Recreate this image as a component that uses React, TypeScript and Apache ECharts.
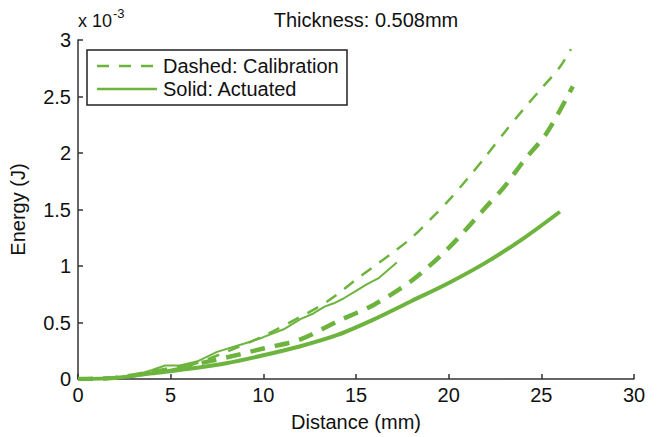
import React, { useEffect, useRef } from "react";
import * as echarts from "echarts";

// Values in units of 1e-3 J
const thinDashedX = [0, 2, 4, 6, 8, 10, 12, 13, 14, 15, 16, 17, 18, 19, 20, 21, 22, 23, 24, 25, 26, 26.6];
const thinDashedY = [0, 0.01, 0.05, 0.12, 0.24, 0.38, 0.55, 0.64, 0.75, 0.88, 1.0, 1.12, 1.25, 1.41, 1.58, 1.77, 1.97, 2.18, 2.38, 2.57, 2.76, 2.92];

const thinSolidX = [0, 2, 3, 4, 4.7, 5.5, 6.5, 7.5, 8.5, 9.3, 10, 11.1, 12, 12.7, 13.3, 13.8, 14.3, 15, 15.6, 16.2, 17.2];
const thinSolidY = [0, 0.01, 0.03, 0.08, 0.12, 0.12, 0.16, 0.24, 0.29, 0.33, 0.37, 0.44, 0.53, 0.58, 0.64, 0.67, 0.71, 0.78, 0.84, 0.89, 1.03];

const thickDashedX = [0, 2, 4, 6, 8, 10, 12, 14, 16, 18, 20, 22, 23, 24, 25.3, 26.7];
const thickDashedY = [0, 0.01, 0.06, 0.12, 0.19, 0.27, 0.35, 0.51, 0.66, 0.87, 1.16, 1.52, 1.7, 1.92, 2.18, 2.59];

const thickSolidX = [0, 2, 4, 6, 8, 10, 12, 14, 16, 18, 20, 22, 24, 26];
const thickSolidY = [0, 0.01, 0.05, 0.09, 0.14, 0.21, 0.29, 0.39, 0.53, 0.69, 0.85, 1.03, 1.24, 1.48];

const xTicks = [0, 5, 10, 15, 20, 25, 30];
const yTicks = [0, 0.5, 1, 1.5, 2, 2.5, 3];

const titleText = "Thickness: 0.508mm";
const xName = "Distance (mm)";
const yName = "Energy (J)";
const legendLabels = ["Dashed: Calibration", "Solid: Actuated"];

const GREEN = "#6db43f";
const FONT = "'Liberation Sans', Arial, sans-serif";
const FS = 20;

function pairs(xs: number[], ys: number[]) {
  return xs.map((x, i) => [x, ys[i]]);
}

export default function App() {
  const ref = useRef<HTMLDivElement>(null);
  useEffect(() => {
    if (!ref.current) return;
    const chart = echarts.init(ref.current, undefined, { renderer: "svg" });
    const lineSeries = (name: string, data: number[][], width: number, type: any, smooth: number | boolean) => ({
      name,
      type: "line",
      data,
      showSymbol: false,
      symbol: "none",
      smooth,
      lineStyle: { color: GREEN, width, type, cap: "butt" },
      z: 3,
    });
    chart.setOption({
      animation: false,
      backgroundColor: "#ffffff",
      textStyle: { fontFamily: FONT },
      title: {
        text: titleText,
        left: 361,
        top: 5,
        textAlign: "center",
        textStyle: { fontFamily: FONT, fontSize: FS, fontWeight: "normal", color: "#111" },
      },
      grid: { left: 77, right: 29, top: 40, bottom: 57, containLabel: false },
      xAxis: {
        type: "value",
        min: 0,
        max: 30,
        interval: 5,
        name: xName,
        nameLocation: "middle",
        nameGap: 33,
        nameTextStyle: { fontFamily: FONT, fontSize: FS, color: "#111" },
        axisLine: { show: true, lineStyle: { color: "#333", width: 1.5 } },
        axisTick: { show: true, inside: true, length: 5, lineStyle: { color: "#333", width: 1.5 } },
        axisLabel: {
          color: "#111",
          fontFamily: FONT,
          fontSize: FS,
          margin: 6,
          formatter: (v: number) => (xTicks.includes(v) ? String(v) : ""),
        },
        splitLine: { show: false },
      },
      yAxis: {
        type: "value",
        min: 0,
        max: 3,
        interval: 0.5,
        name: yName,
        nameLocation: "middle",
        nameGap: 50,
        nameRotate: 90,
        nameTextStyle: { fontFamily: FONT, fontSize: FS, color: "#111" },
        axisLine: { show: true, lineStyle: { color: "#333", width: 1.5 } },
        axisTick: { show: true, inside: true, length: 5, lineStyle: { color: "#333", width: 1.5 } },
        axisLabel: {
          color: "#111",
          fontFamily: FONT,
          fontSize: FS,
          margin: 7,
          formatter: (v: number) => (yTicks.includes(v) ? String(v) : ""),
        },
        splitLine: { show: false },
      },
      series: [
        lineSeries("thickSolid", pairs(thickSolidX, thickSolidY), 4, "solid", 0.3),
        lineSeries("thickDashed", pairs(thickDashedX, thickDashedY), 4.5, [15, 10], 0.3),
        lineSeries("thinDashed", pairs(thinDashedX, thinDashedY), 2.5, [12, 10], 0.3),
        lineSeries("thinSolid", pairs(thinSolidX, thinSolidY), 2, "solid", false),
      ],
      graphic: [
        {
          type: "text",
          left: 78,
          top: 7,
          style: {
            text: "{a|x 10}{b|-3}",
            rich: {
              a: { fontFamily: FONT, fontSize: 18, fill: "#111", verticalAlign: "bottom" },
              b: { fontFamily: FONT, fontSize: 13, fill: "#111", verticalAlign: "top", padding: [0, 0, 10, 1] },
            },
          } as any,
        },
        {
          type: "rect",
          shape: { x: 87, y: 50, width: 260, height: 55 },
          style: { fill: "#fff", stroke: "#222", lineWidth: 1.5 },
          z: 10,
        },
        {
          type: "line",
          shape: { x1: 97, y1: 66, x2: 157, y2: 66 },
          style: { stroke: GREEN, lineWidth: 2.5, lineDash: [12, 10] },
          z: 11,
        },
        {
          type: "line",
          shape: { x1: 97, y1: 89, x2: 157, y2: 89 },
          style: { stroke: GREEN, lineWidth: 2.5 },
          z: 11,
        },
        {
          type: "text",
          x: 163,
          y: 66,
          style: { text: legendLabels[0], fontFamily: FONT, fontSize: FS, fill: "#111", textVerticalAlign: "middle" } as any,
          z: 11,
        },
        {
          type: "text",
          x: 163,
          y: 89,
          style: { text: legendLabels[1], fontFamily: FONT, fontSize: FS, fill: "#111", textVerticalAlign: "middle" } as any,
          z: 11,
        },
      ],
    });
    return () => chart.dispose();
  }, []);
  return (
    <div
      ref={ref}
      style={{ position: "fixed", left: 0, top: 0, width: 663, height: 437, background: "#fff" }}
    />
  );
}
